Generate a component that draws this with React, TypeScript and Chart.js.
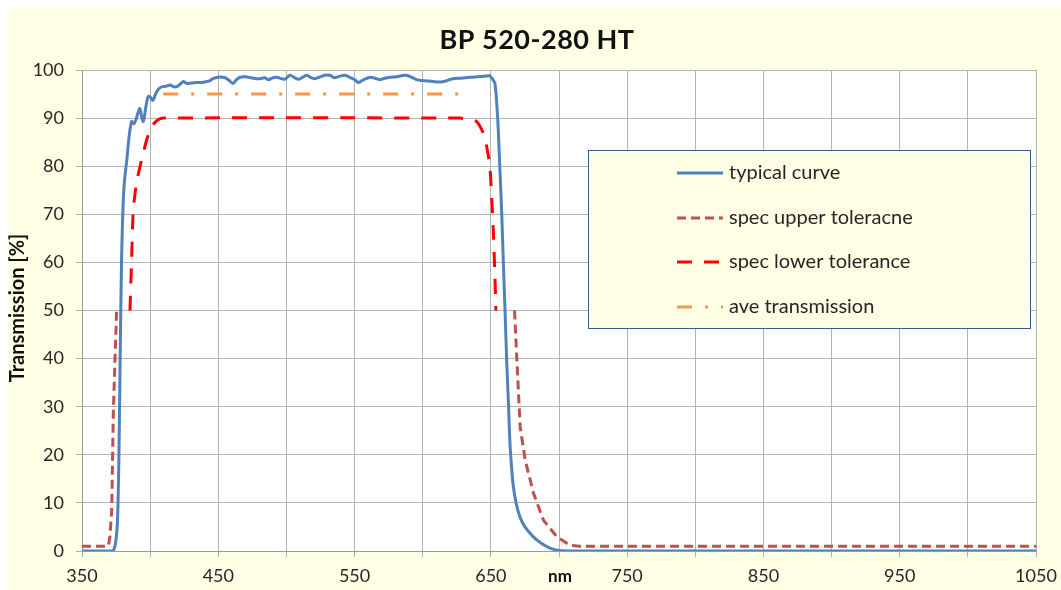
import React, { useEffect, useRef } from "react";
import { Chart, registerables } from "chart.js";
Chart.register(...registerables);

const TITLE = "BP 520-280 HT";
const X_TITLE = "nm";
const Y_TITLE = "Transmission [%]";
const SERIES_LABELS = ["typical curve", "spec upper toleracne", "spec lower tolerance", "ave transmission"];

const typicalNm = [350, 360, 370, 372.5, 374, 375, 376, 377, 378, 379, 380.3, 381.5, 382.8, 384.5, 386.4, 388, 389.5, 391, 392.5, 393.8, 395, 396.8, 398.6, 400.3, 402, 404, 406, 408.5, 411.5, 414.6, 417.5, 420, 422.5, 424.4, 427, 430, 434, 438, 441.4, 444, 446, 449.8, 455, 458, 460.8, 463, 466, 470, 474, 478, 480.6, 484, 487, 490, 493, 496, 499, 502.6, 506, 509, 512, 515, 518, 521, 524, 528, 532, 535, 538, 543, 547, 550, 552.7, 556, 561.3, 565, 568.6, 572, 576, 581, 588, 595.5, 600, 605, 612.6, 618, 622, 628, 634.7, 640, 645, 649, 651, 653, 655, 656.7, 658, 659.1, 660.4, 661.6, 663, 664, 665.3, 666.5, 668.5, 671.3, 675, 681, 687, 693.4, 700, 710, 800, 900, 1000, 1050];
const typicalT = [0, 0, 0, 0, 0.8, 2.5, 6, 18, 40, 60, 73, 78, 81, 86, 89.3, 88.8, 89.6, 91, 92, 90.2, 89.3, 92.2, 94.5, 94.3, 93.7, 95, 96, 96.5, 96.6, 96.9, 96.5, 96.6, 97.2, 97.6, 97.2, 97.3, 97.4, 97.4, 97.6, 97.8, 98.2, 98.5, 98.4, 97.8, 97.2, 97.9, 98.5, 98.6, 98.4, 98.2, 98.2, 98.4, 98.0, 98.4, 98.5, 98.2, 98.1, 98.9, 98.4, 98.1, 98.5, 98.9, 98.4, 98.2, 98.5, 98.9, 98.9, 98.4, 98.6, 98.9, 98.4, 98.0, 97.4, 97.9, 98.5, 98.3, 98.0, 98.3, 98.5, 98.6, 98.9, 98.0, 97.8, 97.7, 97.5, 97.8, 98.2, 98.3, 98.5, 98.6, 98.7, 98.8, 98.2, 97.2, 90, 79, 70, 60.5, 50, 39.7, 30, 22.5, 17, 13.4, 10, 7.1, 5, 3, 1.6, 0.6, 0.1, 0, 0, 0, 0, 0];

const upperNm = [350, 369.3, 370.5, 371.8, 373, 374.2, 375.4, 520, 667.4, 669.1, 671.5, 675.2, 681.3, 688.6, 698.4, 708, 715, 1050];
const upperT = [1, 1, 3, 8.5, 29, 39.7, 50, null, 50, 39.7, 25.8, 18.9, 12, 6.4, 3, 1.2, 1, 1];

const lowerNm = [385.2, 386.4, 387.6, 390, 393.7, 397.4, 401, 405, 409.6, 627, 635, 639.5, 644.4, 647, 649.3, 650.5, 651.7, 653, 653.7];
const lowerT = [50, 60.5, 70.9, 76.5, 81.3, 85.4, 88.2, 89.5, 90, 90, 89.7, 89.3, 86.9, 84, 79.9, 74, 67.4, 57, 50];

const aveNm = [409.6, 632];
const aveT = [95, 95];

const X_MIN = 350;
const X_MAX = 1050;
const X_STEP = 50;
const X_LABEL_EVERY = 100;
const Y_MIN = 0;
const Y_MAX = 100;
const Y_STEP = 10;

const FONT = "Lato, 'Liberation Sans', sans-serif";

const toPts = (xs: number[], ys: (number | null)[]) => xs.map((x, i) => ({ x, y: ys[i] }));

const decorPlugin = {
  id: "decor",
  beforeDraw(chart: any) {
    const { ctx, chartArea, width, height } = chart;
    ctx.save();
    ctx.fillStyle = "#FFFFE6";
    ctx.fillRect(0, 0, width, height);
    ctx.fillStyle = "#FFFFFF";
    ctx.fillRect(chartArea.left, chartArea.top, chartArea.right - chartArea.left, chartArea.bottom - chartArea.top);
    ctx.restore();
  },
  afterDraw(chart: any) {
    const { ctx } = chart;
    ctx.save();
    // title
    ctx.fillStyle = "#111111";
    ctx.font = `bold 27px ${FONT}`;
    (ctx as any).letterSpacing = "0.5px";
    ctx.textAlign = "center";
    ctx.textBaseline = "middle";
    ctx.fillText(TITLE, 529, 32);
    (ctx as any).letterSpacing = "0px";
    // x title
    ctx.font = `bold 17px ${FONT}`;
    ctx.fillText(X_TITLE, 552, 569);
    // y title
    ctx.save();
    ctx.translate(10, 300);
    ctx.rotate(-Math.PI / 2);
    ctx.font = `bold 20px ${FONT}`;
    ctx.fillText(Y_TITLE, 0, 0);
    ctx.restore();
    // legend box
    const bx = 580, by = 142, bw = 442, bh = 178;
    ctx.fillStyle = "#FFFFE6";
    ctx.fillRect(bx, by, bw, bh);
    ctx.strokeStyle = "#385D8A";
    ctx.lineWidth = 1;
    ctx.strokeRect(bx + 0.5, by + 0.5, bw, bh);
    const rows = [165, 210, 254, 299];
    chart.data.datasets.forEach((ds: any, i: number) => {
      const y = rows[i];
      ctx.save();
      ctx.strokeStyle = ds.borderColor;
      ctx.lineWidth = ds.borderWidth;
      ctx.setLineDash(ds.borderDash || []);
      ctx.beginPath();
      ctx.moveTo(669, y);
      ctx.lineTo(715, y);
      ctx.stroke();
      ctx.restore();
      ctx.fillStyle = "#262626";
      ctx.font = `20px ${FONT}`;
      ctx.textAlign = "left";
      ctx.textBaseline = "middle";
      ctx.fillText(ds.label, 721, y);
    });
    ctx.restore();
  },
};

export default function App() {
  const ref = useRef<HTMLCanvasElement>(null);
  useEffect(() => {
    if (!ref.current) return;
    const chart = new Chart(ref.current, {
      type: "line",
      data: {
        datasets: [
          {
            label: SERIES_LABELS[0],
            data: toPts(typicalNm, typicalT),
            borderColor: "#4F81BD",
            borderWidth: 3,
            pointRadius: 0,
            tension: 0.3,
            borderCapStyle: "round",
            borderJoinStyle: "round",
          },
          {
            label: SERIES_LABELS[1],
            data: toPts(upperNm, upperT),
            borderColor: "#C0504D",
            borderWidth: 3,
            borderDash: [9, 5],
            pointRadius: 0,
            spanGaps: false,
          },
          {
            label: SERIES_LABELS[2],
            data: toPts(lowerNm, lowerT),
            borderColor: "#FF0000",
            borderWidth: 3,
            borderDash: [15, 12],
            pointRadius: 0,
            tension: 0.2,
          },
          {
            label: SERIES_LABELS[3],
            data: toPts(aveNm, aveT),
            borderColor: "#F79646",
            borderWidth: 3,
            borderDash: [15, 13, 3, 13],
            pointRadius: 0,
          },
        ],
      },
      options: {
        animation: false,
        responsive: false,
        layout: { padding: { top: 62, right: 25, left: 0, bottom: 0 } },
        plugins: { legend: { display: false }, title: { display: false }, tooltip: { enabled: false } },
        scales: {
          x: {
            type: "linear",
            min: X_MIN,
            max: X_MAX,
            afterFit: (s: any) => { s.height = 39; s.paddingLeft = 0; s.paddingRight = 0; },
            afterBuildTicks: (s: any) => {
              const t = [];
              for (let v = X_MIN; v <= X_MAX; v += X_STEP) t.push({ value: v });
              s.ticks = t;
            },
            ticks: {
              autoSkip: false,
              maxRotation: 0,
              padding: 8,
              color: "#262626",
              font: { family: FONT, size: 18 },
              callback: (v: any) => ((v - X_MIN) % X_LABEL_EVERY === 0 ? String(v) : ""),
            },
            grid: { color: "#B4B4B4", lineWidth: 1, tickLength: 6 },
            border: { color: "#9A9A9A" },
          },
          y: {
            min: Y_MIN,
            max: Y_MAX,
            afterFit: (s: any) => { s.width = 74; s.paddingTop = 0; s.paddingBottom = 0; },
            ticks: {
              stepSize: Y_STEP,
              padding: 12,
              color: "#262626",
              font: { family: FONT, size: 18 },
            },
            grid: { color: "#B4B4B4", lineWidth: 1, tickLength: 6 },
            border: { color: "#9A9A9A" },
          },
        },
      },
      plugins: [decorPlugin],
    } as any);
    return () => chart.destroy();
  }, []);
  return (
    <div style={{ position: "fixed", left: 8, top: 8 }}>
      <canvas ref={ref} width={1053} height={582} style={{ display: "block" }} />
    </div>
  );
}
